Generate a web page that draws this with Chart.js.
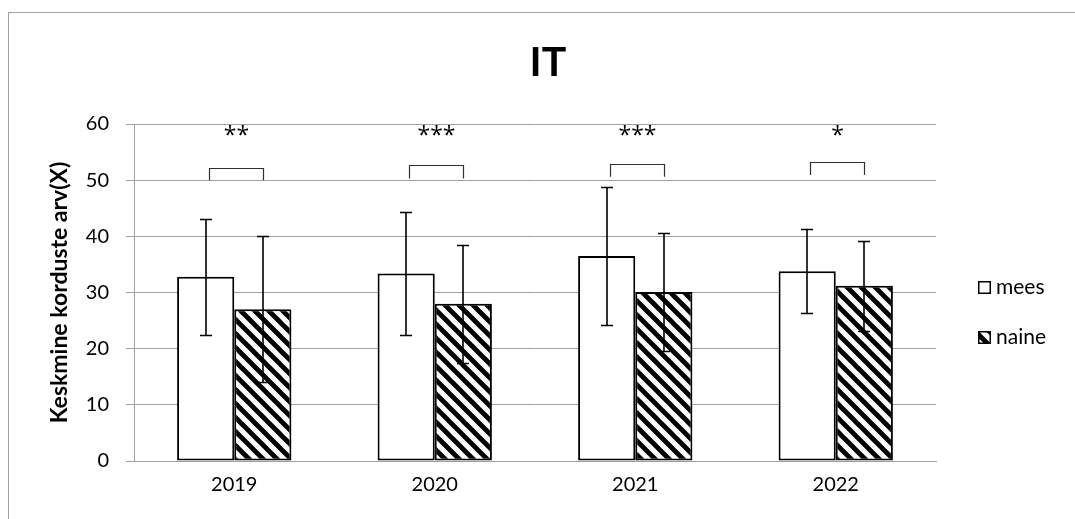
<!DOCTYPE html>
<html><head><meta charset="utf-8">
<script src="https://cdn.jsdelivr.net/npm/chart.js@4/dist/chart.umd.min.js"></script>
<style>html,body{margin:0;padding:0;background:#fff;overflow:hidden}#wrap{width:1075px;height:519px;position:relative}</style>
</head><body><div id="wrap"><canvas id="c" width="1075" height="519"></canvas></div>
<script>
// ---- data ----
const categories = ['2019', '2020', '2021', '2022'];
const seriesNames = ['mees', 'naine'];
const meesMean = [32.8, 33.4, 36.5, 33.8];
const meesSD = [10.3, 11.0, 12.3, 7.5];
const naineMean = [27.0, 28.0, 30.1, 31.2];
const naineSD = [13.0, 10.5, 10.5, 8.0];
const sigLabels = ['**', '***', '***', '*'];
const bracketTop = [52.2, 52.7, 52.9, 53.2];
const bracketBottom = [50.0, 50.3, 50.6, 50.9];
const starLevel = 56.6;
const yMin = 0, yMax = 60, yStep = 10;
const chartTitle = 'IT';
const yTitle = 'Keskmine korduste arv(X)';

const FONT = 'Lato';

function makeHatch() {
  const s = 14;
  const c = document.createElement('canvas');
  c.width = s; c.height = s;
  const g = c.getContext('2d');
  g.fillStyle = '#fff'; g.fillRect(0, 0, s, s);
  g.strokeStyle = '#000'; g.lineWidth = 4.8; g.lineCap = 'square';
  for (const k of [-s, 0, s]) {
    g.beginPath(); g.moveTo(k - 2, -2); g.lineTo(k + s + 2, s + 2); g.stroke();
  }
  return document.getElementById('c').getContext('2d').createPattern(c, 'repeat');
}
const hatch = makeHatch();

const overlay = {
  id: 'overlay',
  beforeDraw(chart) {
    const ctx = chart.ctx;
    ctx.save();
    ctx.fillStyle = '#fff'; ctx.fillRect(0, 0, chart.width, chart.height);
    ctx.strokeStyle = '#a0a0a0'; ctx.lineWidth = 1;
    ctx.strokeRect(8.5, 12.5, 1300, 800);
    // title
    ctx.fillStyle = '#000';
    ctx.font = 'bold 41px ' + FONT;
    ctx.textAlign = 'center'; ctx.textBaseline = 'middle';
    ctx.fillText(chartTitle, 548, 63);
    ctx.restore();
  },
  afterDatasetsDraw(chart) {
    const ctx = chart.ctx, y = chart.scales.y;
    ctx.save();
    // error bars
    const sets = [[meesMean, meesSD], [naineMean, naineSD]];
    ctx.strokeStyle = '#000'; ctx.lineWidth = 1.6;
    sets.forEach(([m, s], di) => {
      chart.getDatasetMeta(di).data.forEach((bar, i) => {
        const x = Math.round(bar.x);
        const yt = Math.round(y.getPixelForValue(m[i] + s[i])) + 0.5;
        const yb = Math.round(y.getPixelForValue(m[i] - s[i])) + 0.5;
        ctx.beginPath();
        ctx.moveTo(x, yt); ctx.lineTo(x, yb);
        ctx.moveTo(x - 6, yt); ctx.lineTo(x + 6, yt);
        ctx.moveTo(x - 6, yb); ctx.lineTo(x + 6, yb);
        ctx.stroke();
      });
    });
    // significance brackets and stars
    const m0 = chart.getDatasetMeta(0).data, m1 = chart.getDatasetMeta(1).data;
    ctx.strokeStyle = '#303030'; ctx.lineWidth = 1.2;
    ctx.fillStyle = '#000';
    ctx.font = '23px "Open Sans"';
    ctx.textAlign = 'center'; ctx.textBaseline = 'alphabetic';
    categories.forEach((c, i) => {
      const x1 = Math.round(m0[i].x) + 3.5, x2 = Math.round(m1[i].x) + 0.5;
      const yt = Math.round(y.getPixelForValue(bracketTop[i])) + 0.5;
      const yb = y.getPixelForValue(bracketBottom[i]);
      ctx.beginPath();
      ctx.moveTo(x1, yb); ctx.lineTo(x1, yt); ctx.lineTo(x2, yt); ctx.lineTo(x2, yb);
      ctx.stroke();
      const sx = (x1 + x2) / 2;
      const sy = y.getPixelForValue(starLevel);
      ctx.fillText(sigLabels[i], sx, sy);
    });
    ctx.restore();
  },
  afterDraw(chart) {
    // legend
    const ctx = chart.ctx;
    ctx.save();
    const items = [{ fill: '#fff', text: seriesNames[0], cy: 287 }, { fill: hatch, text: seriesNames[1], cy: 337 }];
    items.forEach(it => {
      ctx.fillStyle = it.fill;
      ctx.fillRect(978, it.cy - 6, 13, 13);
      ctx.strokeStyle = '#000'; ctx.lineWidth = 1.5;
      ctx.strokeRect(978.75, it.cy - 5.25, 11.5, 11.5);
      ctx.fillStyle = '#000';
      ctx.font = '21px ' + FONT;
      ctx.textAlign = 'left'; ctx.textBaseline = 'middle';
      ctx.fillText(it.text, 996, it.cy);
    });
    ctx.restore();
  }
};

new Chart(document.getElementById('c'), {
  type: 'bar',
  data: {
    labels: categories,
    datasets: [
      { label: seriesNames[0], data: meesMean, backgroundColor: '#fff', borderColor: '#000', borderWidth: 2, borderSkipped: false,
        categoryPercentage: 0.57, barPercentage: 1.0 },
      { label: seriesNames[1], data: naineMean, backgroundColor: hatch, borderColor: '#000', borderWidth: 2, borderSkipped: false,
        categoryPercentage: 0.57, barPercentage: 1.0 }
    ]
  },
  options: {
    responsive: false,
    animation: false,
    devicePixelRatio: 1,
    layout: { padding: { left: 8, right: 139, top: 124, bottom: 10 } },
    plugins: { legend: { display: false }, title: { display: false }, tooltip: { enabled: false } },
    scales: {
      x: {
        grid: { display: false, drawTicks: false },
        border: { display: true, color: '#a0a0a0', width: 1 },
        ticks: { color: '#000', font: { family: FONT, size: 20 }, padding: 12 }
      },
      y: {
        min: yMin, max: yMax,
        afterFit(scale) { scale.width = 126; },
        grid: { color: '#a0a0a0', lineWidth: 1, tickLength: 8, drawTicks: true },
        border: { display: true, color: '#a0a0a0', width: 1 },
        ticks: { stepSize: yStep, color: '#000', font: { family: FONT, size: 20 }, padding: 17 },
        title: { display: true, text: yTitle, color: '#000', font: { family: FONT, size: 23, weight: 'bold' }, padding: { top: 38, bottom: 0 } }
      }
    }
  },
  plugins: [overlay]
});
</script></body></html>
